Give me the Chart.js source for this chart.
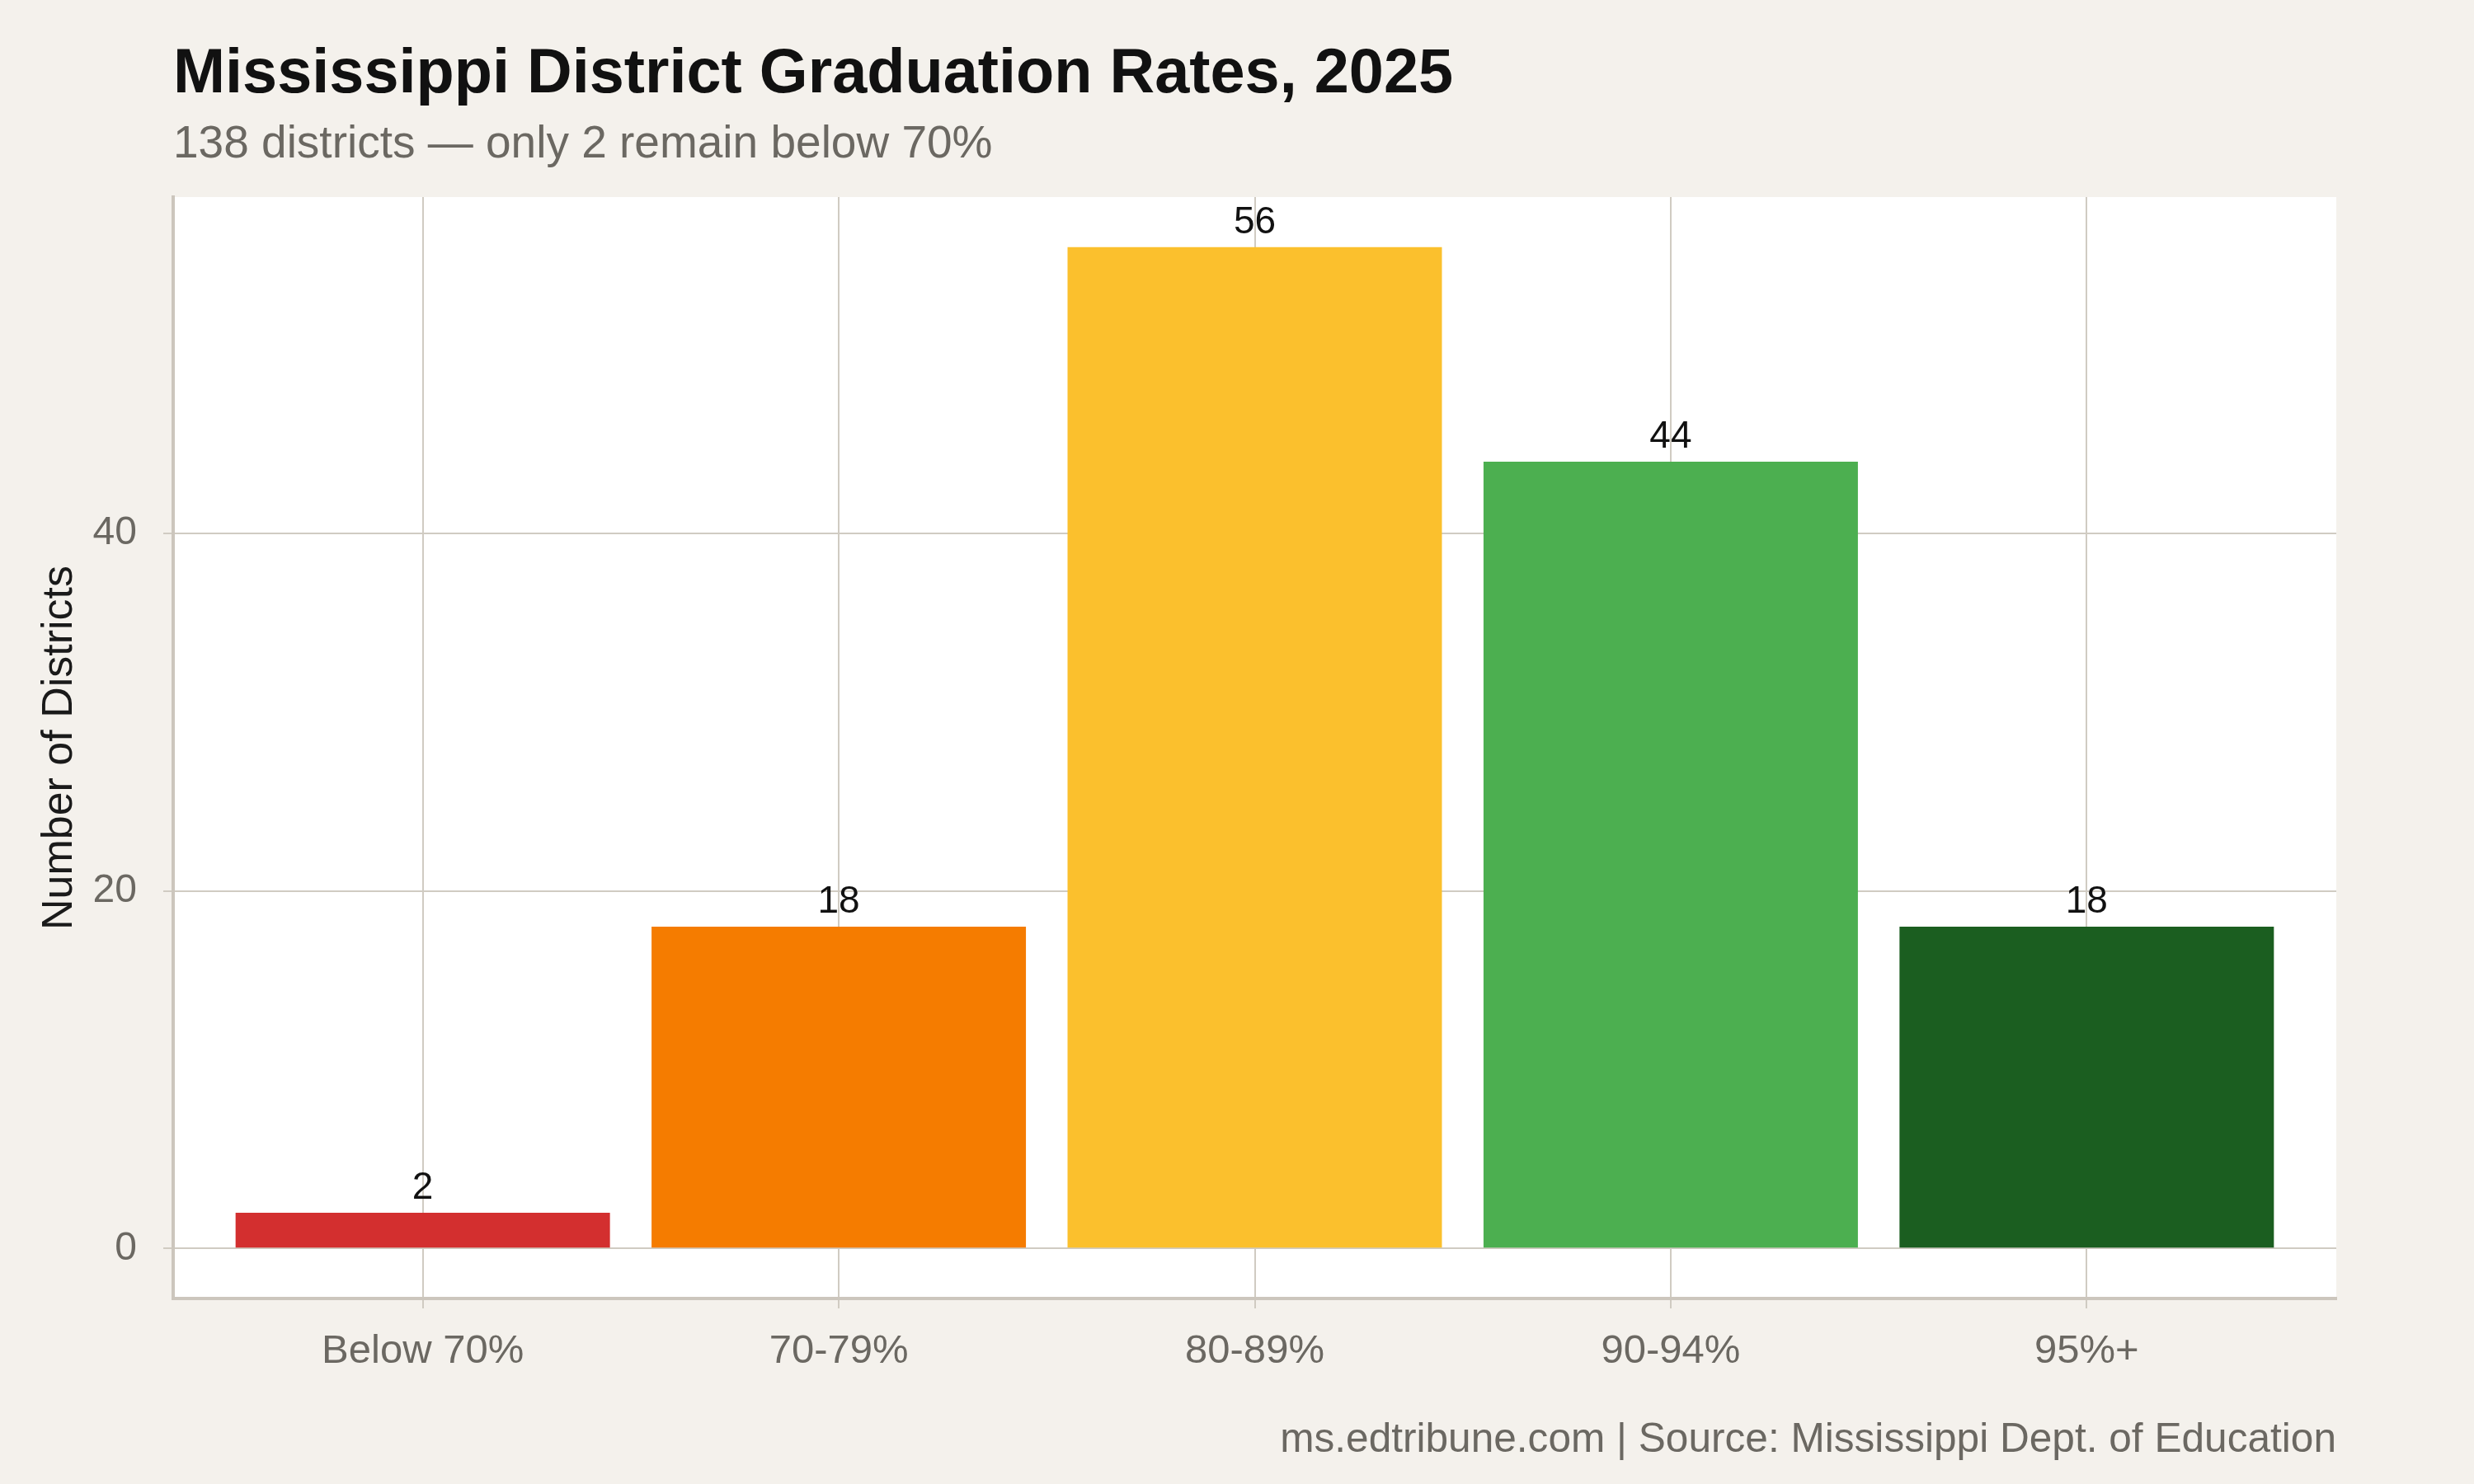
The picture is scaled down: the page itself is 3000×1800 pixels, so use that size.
<!DOCTYPE html>
<html>
<head>
<meta charset="utf-8">
<script src="https://cdn.jsdelivr.net/npm/chart.js@4.4.1/dist/chart.umd.min.js"></script>
<style>
  html, body { margin: 0; padding: 0; background: #f4f1ec; }
  #wrap { position: relative; width: 3000px; height: 1800px; font-family: "Liberation Sans", Arial, sans-serif; }
  canvas { position: absolute; left: 0; top: 0; }
  .txt { position: absolute; line-height: 1; white-space: nowrap; }
  #title { left: 210px; top: 48px; font-size: 75.7px; font-weight: bold; color: #111; }
  #subtitle { left: 210px; top: 145px; font-size: 55px; color: #6b6862; }
  #caption { right: 167px; top: 1720px; font-size: 49.6px; color: #6b6862; }
</style>
</head>
<body>
<div id="wrap">
  <canvas id="chart" width="3000" height="1800"></canvas>
  <div class="txt" id="title">Mississippi District Graduation Rates, 2025</div>
  <div class="txt" id="subtitle">138 districts — only 2 remain below 70%</div>
  <div class="txt" id="caption">ms.edtribune.com | Source: Mississippi Dept. of Education</div>
</div>
<script>
const categories = ["Below 70%", "70-79%", "80-89%", "90-94%", "95%+"];
const districtCounts = [2, 18, 56, 44, 18];
const barColors = ["#d32f2f", "#f57c00", "#fbc02d", "#4caf50", "#1b5e20"];
const yTicks = [0, 20, 40];

const gridColor = "#d0cbc2";
const axisColor = "#ccc6bd";
const tickTextColor = "#6b6862";

// white panel behind the bars
const panelBg = {
  id: "panelBg",
  beforeDraw(chart) {
    const { ctx, chartArea: a } = chart;
    ctx.save();
    ctx.fillStyle = "#ffffff";
    ctx.fillRect(a.left, a.top, a.right - a.left, a.bottom - a.top);
    ctx.restore();
  }
};

// count above each bar
const barLabels = {
  id: "barLabels",
  afterDatasetsDraw(chart) {
    const { ctx } = chart;
    const meta = chart.getDatasetMeta(0);
    ctx.save();
    ctx.font = "46px 'Liberation Sans', Arial, sans-serif";
    ctx.fillStyle = "#111111";
    ctx.textAlign = "center";
    ctx.textBaseline = "alphabetic";
    meta.data.forEach((bar, i) => {
      ctx.fillText(String(districtCounts[i]), bar.x, bar.y - 17);
    });
    ctx.restore();
  }
};

new Chart(document.getElementById("chart"), {
  type: "bar",
  data: {
    datasets: [{
      data: districtCounts.map((v, i) => ({ x: i, y: v })),
      backgroundColor: barColors,
      borderWidth: 0,
      barPercentage: 0.9,
      categoryPercentage: 1.0
    }]
  },
  options: {
    responsive: false,
    maintainAspectRatio: false,
    animation: false,
    devicePixelRatio: 1,
    layout: { padding: { top: 239, right: 167, bottom: 0, left: 0 } },
    plugins: {
      legend: { display: false },
      tooltip: { enabled: false }
    },
    scales: {
      x: {
        type: "linear",
        min: -0.6,
        max: 4.6,
        offset: false,
        afterBuildTicks: s => { s.ticks = categories.map((c, i) => ({ value: i })); },
        afterFit: s => { s.height = 225; },
        ticks: {
          callback: v => categories[v],
          color: tickTextColor,
          font: { family: "'Liberation Sans', Arial, sans-serif", size: 49 },
          padding: 23,
          maxRotation: 0,
          autoSkip: false
        },
        grid: { color: gridColor, lineWidth: 2, tickLength: 12, tickColor: gridColor, offset: false },
        border: { color: axisColor, width: 4 }
      },
      y: {
        min: -2.8,
        max: 58.8,
        afterBuildTicks: s => { s.ticks = yTicks.map(v => ({ value: v })); },
        afterFit: s => { s.width = 210; },
        ticks: {
          color: tickTextColor,
          font: { family: "'Liberation Sans', Arial, sans-serif", size: 48 },
          padding: 32
        },
        grid: { color: gridColor, lineWidth: 2, tickLength: 12, tickColor: gridColor },
        border: { color: axisColor, width: 4 },
        title: {
          display: true,
          text: "Number of Districts",
          color: "#1a1a1a",
          font: { family: "'Liberation Sans', Arial, sans-serif", size: 52 },
          padding: { top: 41, bottom: 0 }
        }
      }
    }
  },
  plugins: [panelBg, barLabels]
});
</script>
</body>
</html>
